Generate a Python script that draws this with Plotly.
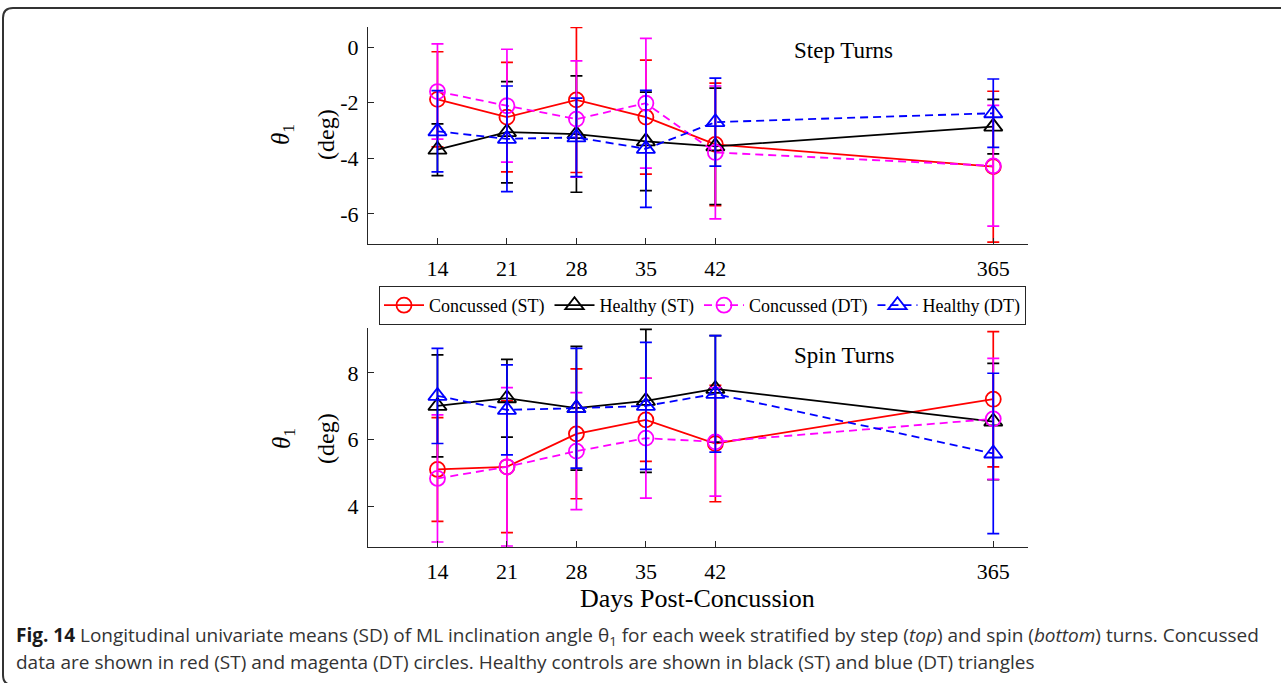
import plotly.graph_objects as go

W, H = 1281, 683

# ---------------- data ----------------
days = [14, 21, 28, 35, 42, 365]
tick_labels = ["14", "21", "28", "35", "42", "365"]

# Step turns (top panel): means and SD
step_conc_st_mean = [-1.88, -2.52, -1.90, -2.52, -3.50, -4.30]
step_conc_st_sd = [1.71, 1.97, 2.61, 2.05, 2.20, 2.71]
step_heal_st_mean = [-3.69, -3.06, -3.13, -3.39, -3.57, -2.86]
step_heal_st_sd = [0.93, 1.82, 2.09, 1.77, 2.09, 0.98]
step_conc_dt_mean = [-1.60, -2.11, -2.59, -2.02, -3.79, -4.27]
step_conc_dt_sd = [1.71, 2.03, 2.09, 2.33, 2.39, 2.17]
step_heal_dt_mean = [-3.03, -3.30, -3.25, -3.66, -2.70, -2.38]
step_heal_dt_sd = [1.46, 1.90, 1.41, 2.10, 1.58, 1.23]

# Spin turns (bottom panel): means and SD
spin_conc_st_mean = [5.10, 5.18, 6.17, 6.59, 5.88, 7.21]
spin_conc_st_sd = [1.56, 1.98, 1.95, 1.25, 1.75, 2.03]
spin_heal_st_mean = [7.01, 7.24, 6.94, 7.16, 7.52, 6.54]
spin_heal_st_sd = [1.53, 1.17, 1.86, 2.15, 1.60, 1.75]
spin_conc_dt_mean = [4.83, 5.18, 5.65, 6.04, 5.93, 6.62]
spin_conc_dt_sd = [1.91, 2.38, 1.76, 1.80, 1.63, 1.82]
spin_heal_dt_mean = [7.31, 6.89, 6.94, 7.01, 7.37, 5.58]
spin_heal_dt_sd = [1.43, 1.35, 1.80, 1.91, 1.75, 2.41]

series_names = ["Concussed (ST)", "Healthy (ST)", "Concussed (DT)", "Healthy (DT)"]

# broken x axis: weekly slots, then a gap before day 365
x_slot = [(d - 14) / 7 if d <= 42 else 8 for d in days]

styles = [
    dict(color="#FF0000", dash="solid", symbol="circle-open", size=15),
    dict(color="#000000", dash="solid", symbol="triangle-up-open", size=16),
    dict(color="#FF00FF", dash="8px,5px", symbol="circle-open", size=15),
    dict(color="#0000FF", dash="8px,5px", symbol="triangle-up-open", size=16),
]

step_sets = [
    (step_conc_st_mean, step_conc_st_sd),
    (step_heal_st_mean, step_heal_st_sd),
    (step_conc_dt_mean, step_conc_dt_sd),
    (step_heal_dt_mean, step_heal_dt_sd),
]
spin_sets = [
    (spin_conc_st_mean, spin_conc_st_sd),
    (spin_heal_st_mean, spin_heal_st_sd),
    (spin_conc_dt_mean, spin_conc_dt_sd),
    (spin_heal_dt_mean, spin_heal_dt_sd),
]

fig = go.Figure()


def add_series(sets, xa, ya, show):
    for name, (m, sd), st in zip(series_names, sets, styles):
        fig.add_trace(go.Scatter(
            x=x_slot, y=m, name=name, mode="lines+markers",
            xaxis=xa, yaxis=ya, showlegend=show, legendgroup=name,
            line=dict(color=st["color"], width=1.8, dash=st["dash"]),
            marker=dict(symbol=st["symbol"], size=st["size"], color=st["color"],
                        line=dict(color=st["color"], width=1.8)),
            error_y=dict(type="data", array=sd, visible=True, color=st["color"],
                         thickness=1.7, width=6),
        ))


add_series(step_sets, "x", "y", True)
add_series(spin_sets, "x2", "y2", False)


def px(x):
    return x / W


def py(y):
    return 1 - y / H


xdom = [px(368), px(1028)]
axis_common = dict(showline=True, linecolor="#262626", linewidth=1, ticks="inside",
                   ticklen=6, tickcolor="#262626", tickwidth=1, showgrid=False,
                   zeroline=False, mirror=False,
                   tickfont=dict(family="Liberation Serif", size=22, color="#000"))

fig.update_layout(
    width=W, height=H, margin=dict(l=0, r=0, t=0, b=0),
    paper_bgcolor="white", plot_bgcolor="white",
    xaxis=dict(domain=xdom, range=[-1, 8.5], tickvals=x_slot, ticktext=tick_labels,
               anchor="y", ticklabelstandoff=5, **axis_common),
    yaxis=dict(domain=[py(244), py(27)], range=[-7.08, 0.72], tickvals=[0, -2, -4, -6],
               ticktext=["0", "-2", "-4", "-6"], anchor="x", ticklabelstandoff=4, **axis_common),
    xaxis2=dict(domain=xdom, range=[-1, 8.5], tickvals=x_slot, ticktext=tick_labels,
                anchor="y2", ticklabelstandoff=5, **axis_common),
    yaxis2=dict(domain=[py(547), py(328)], range=[2.77, 9.35], tickvals=[4, 6, 8],
                anchor="x2", ticklabelstandoff=4, **axis_common),
    legend=dict(orientation="h", x=px(379), y=py(286), xanchor="left", yanchor="top",
                bordercolor="#262626", borderwidth=1, bgcolor="white",
                font=dict(family="Liberation Serif", size=18, color="#000"),
                itemwidth=40, tracegroupgap=0),
    font=dict(family="Liberation Serif"),
)

ann = []
ann.append(dict(x=px(844), y=py(50), text="Step Turns",
                font=dict(family="Liberation Serif", size=23, color="#000")))
ann.append(dict(x=px(844), y=py(355), text="Spin Turns",
                font=dict(family="Liberation Serif", size=23, color="#000")))
ann.append(dict(x=px(697), y=py(598), text="Days Post-Concussion",
                font=dict(family="Liberation Serif", size=26, color="#000")))
for yc in (135, 439):
    ann.append(dict(x=px(283), y=py(yc), text="<i>θ</i><sub>1</sub>", textangle=-90,
                    font=dict(family="Liberation Serif", size=25, color="#000")))
    ann.append(dict(x=px(326), y=py(yc), text="(deg)", textangle=-90,
                    font=dict(family="Liberation Serif", size=24, color="#000")))

cap1 = ("<b style='color:#1a1a1a'>Fig. 14</b> Longitudinal univariate means (SD) of ML inclination angle "
        "θ<sub>1</sub> for each week stratified by step (<i>top</i>) and spin (<i>bottom</i>) turns. Concussed")
cap2 = ("data are shown in red (ST) and magenta (DT) circles. Healthy controls are shown in black (ST) "
        "and blue (DT) triangles")
ann.append(dict(x=px(14), y=py(636), text=cap1, xanchor="left",
                font=dict(family="Open Sans", size=19, color="#333")))
ann.append(dict(x=px(14), y=py(662), text=cap2, xanchor="left",
                font=dict(family="Open Sans", size=19, color="#333")))
for a in ann:
    a.setdefault("xref", "paper")
    a.setdefault("yref", "paper")
    a.setdefault("xanchor", "center")
    a.setdefault("yanchor", "middle")
    a.setdefault("showarrow", False)
fig.update_layout(annotations=ann)

# frame around the figure (top edge and left edge with rounded corners)
path = (f"M {px(1281)} {py(8)} L {px(13)} {py(8)} Q {px(3)} {py(8)} {px(3)} {py(18)} "
        f"L {px(3)} {py(675)} Q {px(3)} {py(685)} {px(13)} {py(685)} L {px(1281)} {py(685)}")
fig.add_shape(type="path", path=path, xref="paper", yref="paper",
              line=dict(color="#333333", width=2))

fig.write_html("out.html", config={"displayModeBar": False},
               post_script="document.body.style.margin='0';document.body.style.overflow='hidden';")
